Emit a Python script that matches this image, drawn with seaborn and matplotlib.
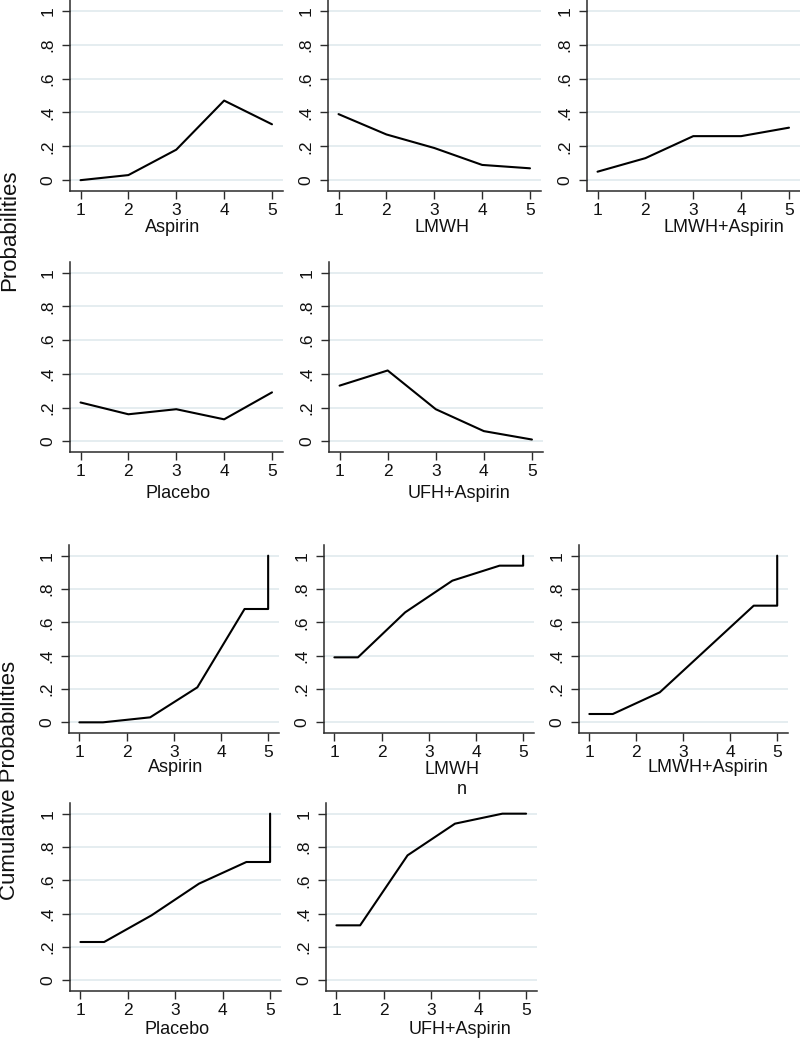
import numpy as np
import pandas as pd
import matplotlib
matplotlib.use("Agg")
import matplotlib.pyplot as plt
import seaborn as sns

# ---------------- data ----------------
treatments = ["Aspirin", "LMWH", "LMWH+Aspirin", "Placebo", "UFH+Aspirin"]
ranks = [1, 2, 3, 4, 5]

prob_aspirin = [0.00, 0.03, 0.18, 0.47, 0.33]
prob_lmwh = [0.39, 0.27, 0.19, 0.09, 0.07]
prob_lmwh_aspirin = [0.05, 0.13, 0.26, 0.26, 0.31]
prob_placebo = [0.23, 0.16, 0.19, 0.13, 0.29]
prob_ufh_aspirin = [0.33, 0.42, 0.19, 0.06, 0.01]

cum_aspirin = [0.00, 0.03, 0.21, 0.68, 1.00]
cum_lmwh = [0.39, 0.66, 0.85, 0.94, 1.00]
cum_lmwh_aspirin = [0.05, 0.18, 0.44, 0.70, 1.00]
cum_placebo = [0.23, 0.39, 0.58, 0.71, 1.00]
cum_ufh_aspirin = [0.33, 0.75, 0.94, 1.00, 1.00]

y_ticks = [0, 0.2, 0.4, 0.6, 0.8, 1.0]
y_ticklabels = ["0", ".2", ".4", ".6", ".8", "1"]
top_title = "Probabilities"
bottom_title = "Cumulative Probabilities"
stray_text = "n"

probs = [prob_aspirin, prob_lmwh, prob_lmwh_aspirin, prob_placebo, prob_ufh_aspirin]
cums = [cum_aspirin, cum_lmwh, cum_lmwh_aspirin, cum_placebo, cum_ufh_aspirin]

# ---------------- style ----------------
sns.set_theme(style="white")
plt.rcParams["font.family"] = ["Liberation Sans", "DejaVu Sans"]

W, H = 800, 1041
fig = plt.figure(figsize=(W / 100, H / 100), dpi=100)
fig.patch.set_facecolor("white")

GRID = "#e5edf0"
SPINE = "#2b2b2b"


def rect(x0, x1, ytop, ybot):
    return [x0 / W, 1 - ybot / H, (x1 - x0) / W, (ybot - ytop) / H]


# axes pixel boxes: (x0, x1, ytop, ybot)
top_boxes = [(70, 283, 0, 191), (328, 541, 0, 191), (587, 800, 0, 191),
             (70, 283, 262, 452), (329, 543, 262, 452)]
bot_boxes = [(69, 279, 545, 733), (324, 534, 545, 733), (579, 788, 545, 733),
             (70, 281, 803, 991), (326, 537, 803, 991)]
# xlabel centres (px)
top_lab = [(173, 227), (442, 227), (724, 227), (178, 494), (459, 494)]
bot_lab = [(176, 767), (452, 769), (708, 767), (177, 1029), (460, 1029)]


def style_ax(ax, box, lab, name):
    x0, x1, yt, yb = box
    ax.set_xlim(0.78, 5.23)
    ax.set_ylim(-0.064, 1.064)
    ax.set_yticks(y_ticks)
    ax.set_yticklabels(y_ticklabels, rotation=90, va="center")
    ax.set_xticks(ranks)
    ax.set_xticklabels([str(r) for r in ranks])
    for yv in y_ticks:
        ax.axhline(yv, color=GRID, lw=1.4, zorder=0)
    sns.despine(ax=ax)
    for s in ["left", "bottom"]:
        ax.spines[s].set_color(SPINE)
        ax.spines[s].set_linewidth(1.1)
    ax.tick_params(axis="both", direction="out", length=5.5, width=1.0,
                   color=SPINE, labelsize=12.5, labelcolor="#111111",
                   left=True, bottom=True)
    ax.tick_params(axis="y", pad=5)
    ax.tick_params(axis="x", pad=3)
    ax.set_ylabel("")
    ax.set_xlabel(name, fontsize=13, color="#111111")
    cx, cy = lab
    ax.xaxis.set_label_coords((cx - x0) / (x1 - x0), (yb - cy) / (yb - yt))
    ax.xaxis.label.set_va("center")
    ax.set_facecolor("white")


# top block: rank probabilities
for i, name in enumerate(treatments):
    ax = fig.add_axes(rect(*top_boxes[i]))
    df = pd.DataFrame({"rank": ranks, "p": probs[i]})
    sns.lineplot(data=df, x="rank", y="p", ax=ax, color="black", lw=1.5,
                 estimator=None, sort=False, zorder=3)
    style_ax(ax, top_boxes[i], top_lab[i], name)

# bottom block: cumulative probabilities (step-like path)
for i, name in enumerate(treatments):
    ax = fig.add_axes(rect(*bot_boxes[i]))
    c = cums[i]
    r = np.array(ranks, dtype=float)
    xs = [r[0]] + list(r[:-1] + 0.5) + [r[-1], r[-1]]
    ys = [c[0]] + list(c[:-1]) + [c[-2], c[-1]]
    df = pd.DataFrame({"x": xs, "y": ys})
    sns.lineplot(data=df, x="x", y="y", ax=ax, color="black", lw=1.5,
                 estimator=None, sort=False, zorder=3)
    style_ax(ax, bot_boxes[i], bot_lab[i], name)

fig.text(10 / W, 1 - 230 / H, top_title, rotation=90, ha="center", va="center",
         fontsize=16, color="#111111")
fig.text(10 / W, 1 - 780 / H, bottom_title, rotation=90, ha="center", va="center",
         fontsize=16, color="#111111")
fig.text(462 / W, 1 - 789 / H, stray_text, ha="center", va="center",
         fontsize=13, color="#111111")

fig.savefig("out.png", dpi=100, facecolor="white")
